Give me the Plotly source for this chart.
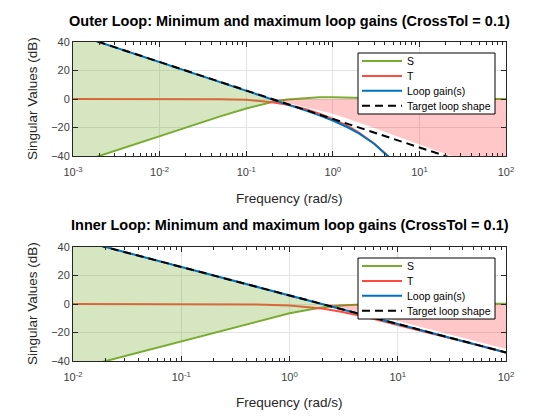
import plotly.graph_objects as go

# ---------------- data ----------------
# Outer loop
outer_w = [0.001, 0.002, 0.005, 0.01, 0.02, 0.05, 0.1, 0.15, 0.2, 0.3, 0.5, 0.7,
           1, 1.5, 2, 3, 4, 5, 7, 10, 20, 50, 100]
outer_S = [-46.0, -40.0, -32.1, -26.0, -20.0, -12.2, -6.7, -3.8, -2.1, -0.3, 0.9, 1.2,
           1.2, 0.9, 0.6, 0.2, 0.1, 0.0, 0.0, 0.0, 0.0, 0.0, 0.0]
outer_T = [0.0, 0.0, 0.0, 0.0, 0.0, -0.2, -0.6, -1.3, -2.2, -4.0, -7.4, -10.3,
           -13.9, -19.1, -23.5, -31.2, -37.7, -43.5, -53.1]
outer_L = [46.0, 40.0, 32.0, 26.0, 20.0, 12.0, 6.0, 2.5, 0.0, -3.6, -8.3, -11.5,
           -15.1, -20.0, -24.1, -31.4, -37.8, -43.5, -53.1]
outer_target_w = [0.001, 100]
outer_target_dB = [46.0, -54.0]

outer_green_hi_w = [0.001, 0.002, 0.01, 0.1, 0.2, 0.23]
outer_green_hi_dB = [40, 40, 26, 6, 0, -1.0]
outer_green_lo_w = [0.001, 0.002, 0.01, 0.05, 0.1, 0.15, 0.2, 0.23]
outer_green_lo_dB = [-40, -40, -25.5, -11.8, -6.0, -3.2, -1.6, -1.0]
outer_red_lo_w = [0.23, 0.5, 1, 2, 4.57, 10, 21.6, 24, 100]
outer_red_lo_dB = [-1.0, -5.8, -10.3, -16.5, -24.6, -32.0, -39.3, -40, -40]

# Inner loop
inner_w = [0.01, 0.02, 0.05, 0.1, 0.2, 0.5, 1, 1.5, 2, 3, 5, 10, 20, 50, 100]
inner_S = [-46.0, -40.0, -32.0, -26.1, -20.0, -12.3, -6.5, -4.0, -2.4, -1.0, -0.2,
           0.1, 0.1, 0.1, 0.1]
inner_T = [0.0, 0.0, 0.0, 0.0, 0.0, -0.3, -1.0, -2.0, -3.1, -5.4, -9.0, -14.8,
           -20.3, -28.1, -34.0]
inner_L = [46.0, 40.0, 32.0, 26.0, 20.0, 12.0, 6.0, 2.5, 0.0, -3.5, -8.0, -14.0,
           -20.0, -28.0, -34.0]
inner_target_w = [0.01, 100]
inner_target_dB = [46.0, -34.0]

inner_green_hi_w = [0.01, 0.02, 0.1, 1, 2, 2.3]
inner_green_hi_dB = [40, 40, 26, 6, 0, -1.0]
inner_green_lo_w = [0.01, 0.02, 0.1, 0.5, 1, 1.5, 2, 2.3]
inner_green_lo_dB = [-40, -40, -25.6, -11.8, -6.0, -3.3, -1.7, -1.0]
inner_red_lo_w = [2.3, 5, 10, 20, 50, 100]
inner_red_lo_dB = [-1.0, -6.5, -12.0, -18.0, -26.0, -31.5]

titles = ["Outer Loop: Minimum and maximum loop gains (CrossTol = 0.1)",
          "Inner Loop: Minimum and maximum loop gains (CrossTol = 0.1)"]
series_names = ["S", "T", "Loop gain(s)", "Target loop shape"]
y_ticks = [-40, -20, 0, 20, 40]
outer_xticks = [1e-3, 1e-2, 1e-1, 1e0, 1e1, 1e2]
outer_xlabels = ["10<sup>-3</sup>", "10<sup>-2</sup>", "10<sup>-1</sup>",
                 "10<sup>0</sup>", "10<sup>1</sup>", "10<sup>2</sup>"]
inner_xticks = [1e-2, 1e-1, 1e0, 1e1, 1e2]
inner_xlabels = ["10<sup>-2</sup>", "10<sup>-1</sup>", "10<sup>0</sup>",
                 "10<sup>1</sup>", "10<sup>2</sup>"]

# ---------------- styles ----------------
C_S = "#77AC30"
C_T = "#FF4B3E"
C_L = "#0072BD"
GREEN_FILL = "rgba(119,172,48,0.30)"
RED_FILL = "rgba(255,0,0,0.22)"
FONT = "Liberation Sans, Arial, Helvetica, sans-serif"
AX = "#262626"
DASH = "8px,5px"

# the page body adds an 8 px offset; the figure is sized so it fits the window
OFF = 8
W, H = 560 - OFF, 420 - OFF


def px(x):
    return (x - OFF) / W


def py(y):
    return 1 - (y - OFF) / H


fig = go.Figure()


def add_panel(xa, ya, w, S, T, L, tw, tdB, ghw, ghd, glw, gld, rlw, rld):
    fig.add_trace(go.Scatter(x=w, y=S, mode="lines", name=series_names[0],
                             line=dict(color=C_S, width=2), showlegend=False,
                             xaxis=xa, yaxis=ya))
    fig.add_trace(go.Scatter(x=w[:len(T)], y=T, mode="lines", name=series_names[1],
                             line=dict(color=C_T, width=2), showlegend=False,
                             xaxis=xa, yaxis=ya))
    gx = list(ghw) + list(reversed(glw))
    gy = list(ghd) + list(reversed(gld))
    fig.add_trace(go.Scatter(x=gx, y=gy, mode="lines", fill="toself",
                             fillcolor=GREEN_FILL, line=dict(width=0),
                             hoverinfo="skip", showlegend=False,
                             xaxis=xa, yaxis=ya))
    rx = list(rlw) + [rlw[-1], rlw[0]]
    ry = list(rld) + [0, 0]
    fig.add_trace(go.Scatter(x=rx, y=ry, mode="lines", fill="toself",
                             fillcolor=RED_FILL, line=dict(width=0),
                             hoverinfo="skip", showlegend=False,
                             xaxis=xa, yaxis=ya))
    fig.add_trace(go.Scatter(x=w[:len(L)], y=L, mode="lines", name=series_names[2],
                             line=dict(color=C_L, width=2), showlegend=False,
                             xaxis=xa, yaxis=ya))
    fig.add_trace(go.Scatter(x=tw, y=tdB, mode="lines", name=series_names[3],
                             line=dict(color="black", width=2, dash=DASH),
                             showlegend=False, xaxis=xa, yaxis=ya))


add_panel("x", "y", outer_w, outer_S, outer_T, outer_L,
          outer_target_w, outer_target_dB,
          outer_green_hi_w, outer_green_hi_dB, outer_green_lo_w, outer_green_lo_dB,
          outer_red_lo_w, outer_red_lo_dB)
add_panel("x2", "y2", inner_w, inner_S, inner_T, inner_L,
          inner_target_w, inner_target_dB,
          inner_green_hi_w, inner_green_hi_dB, inner_green_lo_w, inner_green_lo_dB,
          inner_red_lo_w, inner_red_lo_dB)

xdom = [px(73), px(506)]
ydom_top = [py(156), py(42)]
ydom_bot = [py(361), py(247)]

common_x = dict(type="log", showline=True, linecolor=AX, linewidth=1, mirror="ticks",
                ticks="inside", ticklen=5, tickcolor=AX, showgrid=True,
                gridcolor="#E3E3E3", gridwidth=1, zeroline=False, automargin=False,
                ticklabelstandoff=6,
                tickfont=dict(size=11, color="#404040", family=FONT),
                minor=dict(ticks="inside", ticklen=3, tickcolor=AX, showgrid=False,
                           dtick="D1"))
common_y = dict(range=[-40, 40], tickvals=y_ticks, showline=True, linecolor=AX,
                linewidth=1, mirror="ticks", ticks="inside", ticklen=5, tickcolor=AX,
                showgrid=True, gridcolor="#E3E3E3", gridwidth=1, zeroline=False,
                automargin=False,
                tickfont=dict(size=11, color="#404040", family=FONT))

fig.update_layout(
    width=W, height=H, margin=dict(l=0, r=0, t=0, b=0, autoexpand=False),
    paper_bgcolor="white", plot_bgcolor="white",
    font=dict(family=FONT, color=AX),
    xaxis=dict(common_x, domain=xdom, anchor="y", range=[-3, 2],
               tickvals=outer_xticks, ticktext=outer_xlabels),
    yaxis=dict(common_y, domain=ydom_top, anchor="x"),
    xaxis2=dict(common_x, domain=xdom, anchor="y2", range=[-2, 2],
                tickvals=inner_xticks, ticktext=inner_xlabels),
    yaxis2=dict(common_y, domain=ydom_bot, anchor="x2"),
    showlegend=False,
)

# ---------------- manual legends (box, sample lines, labels) ----------------
shapes = []
ann = []
legend_colors = [C_S, C_T, C_L, "black"]
legend_dash = ["solid", "solid", "solid", DASH]
for top in (53, 258):
    shapes.append(dict(type="rect", xref="paper", yref="paper",
                       x0=px(358), x1=px(495), y0=py(top), y1=py(top + 61),
                       line=dict(color="black", width=1), fillcolor="white",
                       layer="above"))
    for i, nm in enumerate(series_names):
        yy = top + 8 + i * 14.9
        shapes.append(dict(type="line", xref="paper", yref="paper",
                           x0=px(362), x1=px(402), y0=py(yy), y1=py(yy),
                           line=dict(color=legend_colors[i], width=2,
                                     dash=legend_dash[i]), layer="above"))
        ann.append(dict(text=nm, x=px(404.5), y=py(yy), xanchor="left",
                        yanchor="middle", font=dict(size=10.5, color="black")))

xc = (xdom[0] + xdom[1]) / 2
ann += [
    dict(text="<b>" + titles[0] + "</b>", x=xc, y=py(21), xanchor="center",
         yanchor="middle", font=dict(size=14.5, color="black")),
    dict(text="<b>" + titles[1] + "</b>", x=xc, y=py(225), xanchor="center",
         yanchor="middle", font=dict(size=14.5, color="black")),
    dict(text="Frequency (rad/s)", x=xc, y=py(198), xanchor="center",
         yanchor="middle", font=dict(size=13.5, color=AX)),
    dict(text="Frequency (rad/s)", x=xc, y=py(402), xanchor="center",
         yanchor="middle", font=dict(size=13.5, color=AX)),
    dict(text="Singular Values (dB)", x=px(32), y=py(99), textangle=-90,
         xanchor="center", yanchor="middle", font=dict(size=13.5, color=AX)),
    dict(text="Singular Values (dB)", x=px(32), y=py(304), textangle=-90,
         xanchor="center", yanchor="middle", font=dict(size=13.5, color=AX)),
]
for a in ann:
    a.update(xref="paper", yref="paper", showarrow=False)
fig.update_layout(annotations=ann, shapes=shapes)

fig.write_html("out.html")
